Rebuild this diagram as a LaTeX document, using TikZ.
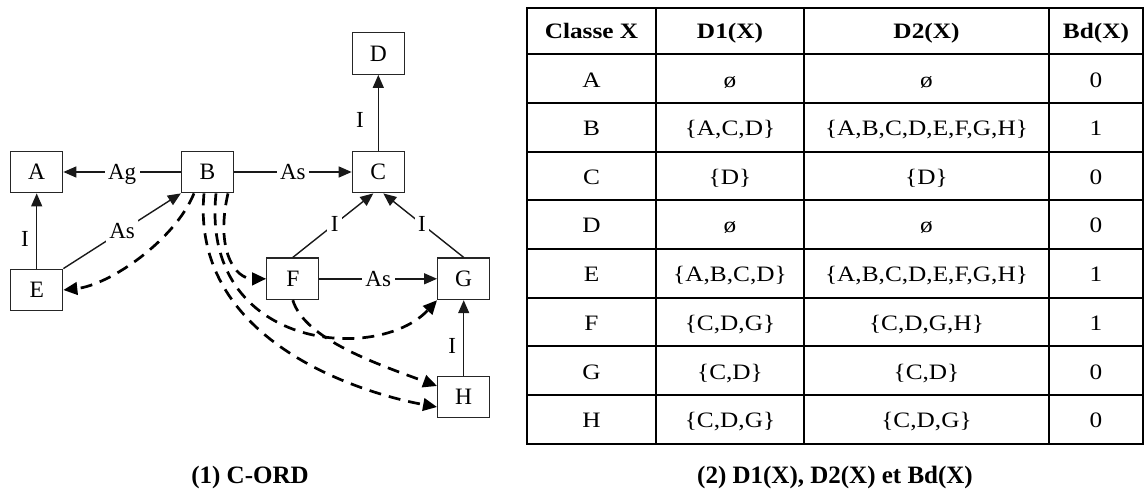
\documentclass[tikz,border=0pt]{standalone}
\usepackage{fontspec}
\setmainfont{Liberation Serif}
\newfontfamily\tabfont[FakeStretch=1.15]{Liberation Serif}
\usetikzlibrary{arrows.meta}

\begin{document}
\begin{tikzpicture}[x=1pt,y=-1pt,
  cls/.style={draw=black!85, line width=1.3pt, minimum width=52pt,
    minimum height=41.5pt, inner sep=0pt, font=\fontsize{23.5}{27}\selectfont},
  rel/.style={line width=1.4pt, draw=black!90,
    -{Triangle[length=13pt,width=11pt]}},
  lbl/.style={fill=white, inner sep=3.5pt, text depth=0pt,
    font=\fontsize{23}{27}\selectfont},
  side/.style={inner sep=0pt, font=\fontsize{23}{27}\selectfont},
  dep/.style={line width=2.7pt, dash pattern=on 12pt off 8pt,
    -{Triangle[length=14pt,width=12.5pt]}},
  tabline/.style={line width=2pt},
  cell/.style={anchor=base, inner sep=0pt, font=\tabfont\fontsize{22}{26}\selectfont},
  head/.style={cell, font=\tabfont\bfseries\fontsize{22}{26}\selectfont},
  captxt/.style={anchor=base, inner sep=0pt, font=\bfseries\fontsize{25}{30}\selectfont}
]
\useasboundingbox (0,0) rectangle (1145,489);

% ---- class graph ----
\node[cls] (A) at (36.7,172) {A};
\node[cls] (B) at (207.5,172) {B};
\node[cls] (C) at (378.3,172) {C};
\node[cls] (D) at (378.3,53.5) {D};
\node[cls] (E) at (36.7,290) {E};
\node[cls] (F) at (292.8,278.8) {F};
\node[cls] (G) at (463.7,278.8) {G};
\node[cls] (H) at (463.7,397) {H};

\draw[rel] (B) -- node[lbl] {Ag} (A);
\draw[rel] (B) -- node[lbl] {As} (C);
\draw[rel] (C) -- (D);
\draw[rel] (E) -- (A);
\draw[rel] (E.north east) -- node[lbl] {As} (B.south west);
\draw[rel] (F.north) -- node[lbl, pos=0.52] {I} ([xshift=-5pt]C.south);
\draw[rel] (G.north) -- node[lbl, pos=0.52] {I} ([xshift=5pt]C.south);
\draw[rel] (F) -- node[lbl] {As} (G);
\draw[rel] (H) -- (G);

\node[side] (iCD) at (360,120) {I};
\node[side] (iEA) at (25,239) {I};
\node[side] (iHG) at (452.3,346) {I};

% dependency paths (dashed)
\draw[dep] ([xshift=-13.5pt]B.south) .. controls (175,240) and (110,285) .. (E.east);
\draw[dep] ([xshift=-3.5pt]B.south) .. controls (190,345) and (370,395) .. ([yshift=-10pt]H.west);
\draw[dep] ([xshift=8.5pt]B.south) .. controls (200,350) and (378,364) .. (G.south west);
\draw[dep] ([xshift=20.5pt]B.south) .. controls (215,250) and (235,279) .. (F.west);
\draw[dep] (F.south) .. controls (305,340) and (380,365) .. ([yshift=11pt]H.west);

\node[captxt] (cap1) at (250,483) {(1) C-ORD};

% ---- table ----
\draw[tabline] (527,8.3) rectangle (1143,443.5);
\foreach \cx in {656,804,1049} \draw[tabline] (\cx,8.3) -- (\cx,443.5);
\foreach \ry in {54.3,102.9,151.6,200.2,248.9,297.5,346.2,394.8} \draw[tabline] (527,\ry) -- (1143,\ry);

\node[head] (h1) at (591.5,39) {Classe X};
\node[head] (h2) at (730,39) {D1(X)};
\node[head] (h3) at (926.5,39) {D2(X)};
\node[head] (h4) at (1096,39) {Bd(X)};

\foreach \k/\ry/\cls/\da/\db/\bd in {
  a/78.6/A/ø/ø/0,
  b/127.2/B/{\{A,C,D\}}/{\{A,B,C,D,E,F,G,H\}}/1,
  c/175.9/C/{\{D\}}/{\{D\}}/0,
  d/224.5/D/ø/ø/0,
  e/273.2/E/{\{A,B,C,D\}}/{\{A,B,C,D,E,F,G,H\}}/1,
  f/321.8/F/{\{C,D,G\}}/{\{C,D,G,H\}}/1,
  g/370.5/G/{\{C,D\}}/{\{C,D\}}/0,
  h/419.1/H/{\{C,D,G\}}/{\{C,D,G\}}/0}{
  \node[cell] (\k1) at (591.5,\ry+8.5) {\cls};
  \node[cell] (\k2) at (730,\ry+8.5) {\da};
  \node[cell] (\k3) at (926.5,\ry+8.5) {\db};
  \node[cell] (\k4) at (1096,\ry+8.5) {\bd};
}

\node[captxt] (cap2) at (835,483) {(2) D1(X), D2(X) et Bd(X)};
\end{tikzpicture}
\end{document}
